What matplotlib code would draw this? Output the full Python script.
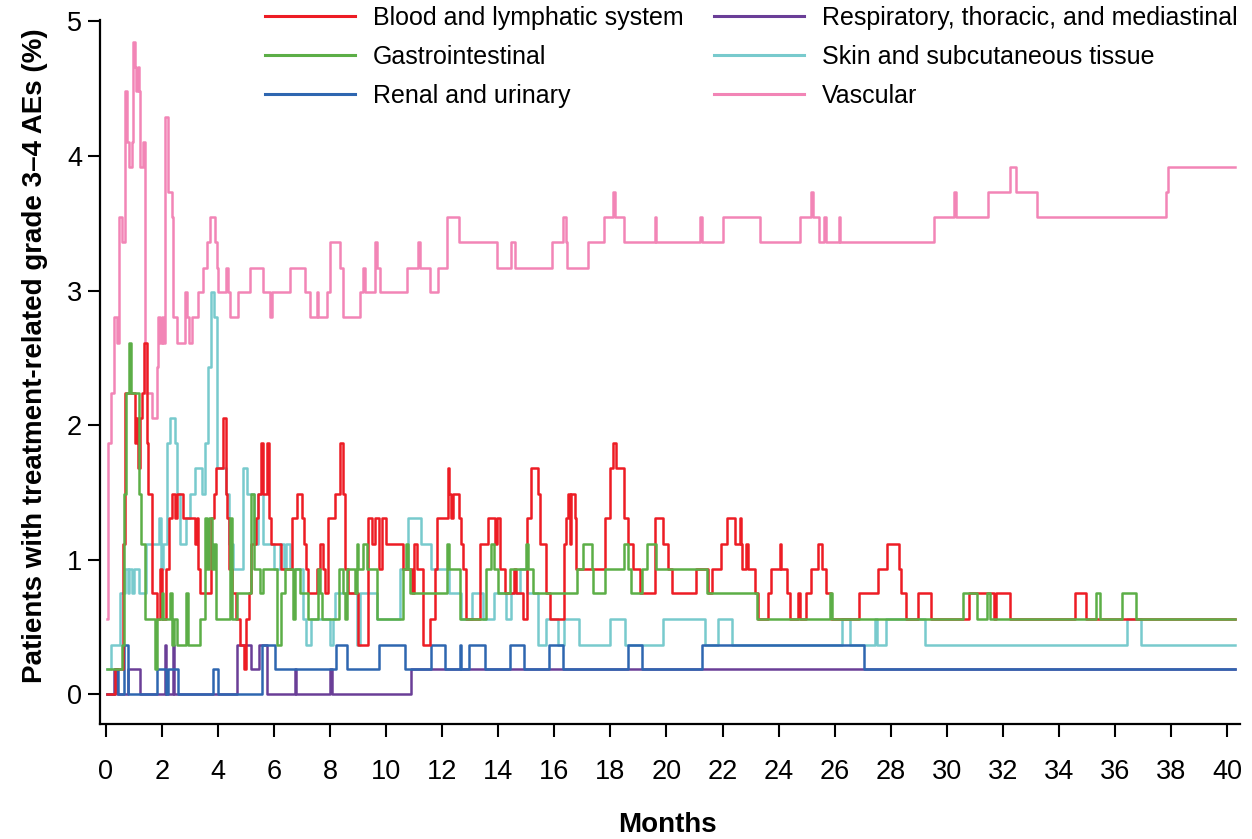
import matplotlib
matplotlib.use("Agg")
import matplotlib.pyplot as plt

plt.rcParams["font.family"] = ["Liberation Sans", "DejaVu Sans"]

# Months at which each rate changes; rate (%) holds until the next month
months_blood = [
    0.05, 0.35, 0.62, 0.68, 1.05, 1.1, 1.16, 1.22, 1.3, 1.36,
    1.46, 1.5, 1.64, 1.82, 1.94, 2.0, 2.17, 2.25, 2.35, 2.47,
    2.55, 2.77, 3.18, 3.25, 3.3, 3.36, 3.75, 3.85, 3.95, 4.19,
    4.28, 4.33, 4.4, 4.5, 4.65, 4.8, 4.95, 5.02, 5.1, 5.2,
    5.35, 5.45, 5.55, 5.62, 5.75, 5.82, 5.9, 6.25, 6.63, 6.81,
    7.02, 7.07, 7.16, 7.22, 7.52, 7.64, 7.76, 7.82, 7.94, 8.17,
    8.35, 8.45, 8.53, 8.65, 9.01, 9.36, 9.5, 9.6, 9.75, 9.85,
    10.0, 10.61, 10.91, 11.0, 11.12, 11.3, 11.58, 11.74, 11.8, 12.2,
    12.25, 12.3, 12.37, 12.6, 12.69, 12.76, 12.84, 13.34, 13.64, 13.9,
    13.95, 14.06, 14.25, 14.55, 14.62, 14.9, 15.01, 15.18, 15.42, 15.48,
    15.69, 15.86, 16.34, 16.43, 16.49, 16.55, 16.61, 16.73, 16.79, 17.8,
    17.98, 18.1, 18.19, 18.48, 18.63, 18.81, 19.05, 19.58, 19.88, 20.06,
    20.18, 21.05, 21.49, 21.61, 21.96, 22.14, 22.44, 22.61, 22.65, 22.71,
    22.85, 22.91, 23.15, 23.27, 23.63, 23.74, 24.04, 24.1, 24.28, 24.4,
    24.7, 24.76, 24.99, 25.17, 25.41, 25.53, 25.68, 25.86, 26.87, 27.55,
    27.88, 28.29, 28.35, 28.53, 28.97, 29.42, 30.79, 31.67, 31.76, 32.24,
    34.55, 34.97, 40.26,
]
pct_blood = [
    0, 0.19, 1.12, 2.24, 1.87, 2.05, 1.68, 2.05, 2.24, 2.61,
    1.87, 1.49, 0.75, 0.56, 0.93, 0.56, 0.93, 1.31, 1.49, 1.31,
    1.49, 1.31, 1.12, 1.31, 0.93, 0.75, 1.31, 1.49, 1.68, 2.05,
    1.49, 1.31, 0.93, 0.75, 0.56, 0.37, 0.19, 0.56, 0.75, 1.12,
    1.31, 1.49, 1.87, 1.49, 1.87, 1.31, 1.12, 0.93, 1.31, 1.49,
    1.31, 1.12, 0.93, 0.75, 0.93, 1.12, 0.93, 0.75, 1.31, 1.49,
    1.87, 1.49, 0.93, 0.75, 0.37, 1.31, 1.12, 1.31, 0.93, 1.31,
    1.12, 0.93, 0.75, 1.12, 0.93, 0.37, 0.56, 0.93, 1.31, 1.68,
    1.49, 1.31, 1.49, 1.31, 1.12, 0.93, 0.56, 1.12, 1.31, 1.12,
    1.31, 0.93, 0.75, 0.93, 0.75, 0.56, 1.31, 1.68, 1.49, 1.12,
    0.75, 0.56, 1.12, 1.31, 1.49, 1.12, 1.49, 1.31, 0.93, 1.31,
    1.68, 1.87, 1.68, 1.31, 1.12, 0.93, 0.75, 1.31, 1.12, 0.93,
    0.75, 0.93, 0.75, 0.93, 1.12, 1.31, 1.12, 1.31, 1.12, 0.93,
    1.12, 0.93, 0.75, 0.56, 0.75, 0.93, 1.12, 0.93, 0.75, 0.56,
    0.75, 0.56, 0.75, 0.93, 1.12, 0.93, 0.75, 0.56, 0.75, 0.93,
    1.12, 0.93, 0.75, 0.56, 0.75, 0.56, 0.75, 0.56, 0.75, 0.56,
    0.75, 0.56, 0.56,
]

months_gi = [
    0.05, 0.6, 0.66, 0.72, 0.82, 0.92, 1.2, 1.26, 1.4, 1.75,
    1.82, 2.0, 2.05, 2.3, 2.35, 2.45, 2.55, 2.88, 2.94, 3.35,
    3.55, 3.6, 3.7, 3.78, 3.85, 3.95, 4.45, 4.5, 4.67, 5.2,
    5.28, 5.5, 5.6, 6.1, 6.25, 6.39, 6.69, 6.75, 6.93, 7.22,
    7.58, 7.64, 7.7, 8.33, 8.47, 8.53, 8.59, 8.89, 8.95, 9.01,
    9.18, 9.32, 9.66, 10.61, 10.7, 10.78, 10.85, 12.16, 12.25, 12.63,
    13.56, 13.74, 13.85, 14.0, 14.41, 14.98, 15.07, 15.25, 16.82, 17.03,
    17.33, 17.39, 17.8, 18.48, 18.63, 18.75, 19.14, 19.29, 19.62, 21.45,
    23.23, 25.82, 25.89, 30.57, 31.07, 31.44, 31.52, 35.33, 35.45, 36.26,
    36.73, 40.26,
]
pct_gi = [
    0.19, 0.37, 1.49, 2.24, 2.61, 2.24, 1.49, 1.12, 0.56, 0.19,
    0.56, 0.75, 0.56, 0.75, 0.37, 0.56, 0.37, 0.75, 0.37, 0.56,
    1.31, 0.93, 1.31, 0.93, 1.12, 0.56, 1.31, 0.56, 0.75, 1.49,
    0.93, 0.75, 0.93, 0.37, 0.75, 0.93, 0.56, 0.93, 0.75, 0.56,
    0.93, 0.75, 0.56, 0.93, 0.75, 0.56, 0.93, 0.75, 1.12, 0.93,
    1.12, 0.93, 0.56, 0.93, 1.12, 0.93, 0.75, 1.12, 0.93, 0.56,
    0.93, 1.12, 0.93, 0.75, 0.93, 1.12, 0.93, 0.75, 0.93, 1.12,
    0.93, 0.75, 0.93, 1.12, 0.93, 0.75, 0.93, 1.12, 0.93, 0.75,
    0.56, 0.75, 0.56, 0.75, 0.56, 0.75, 0.56, 0.75, 0.56, 0.75,
    0.56, 0.56,
]

months_renal = [
    0.05, 0.33, 0.45, 0.65, 0.8, 1.84, 2.17, 2.23, 2.59, 3.84,
    4.01, 5.56, 6.03, 8.21, 8.59, 9.76, 10.67, 11.59, 12.09, 12.63,
    12.69, 12.96, 13.52, 14.41, 14.91, 15.81, 16.31, 18.63, 19.14, 21.25,
    27.04, 40.26,
]
pct_renal = [
    0, 0.19, 0, 0.37, 0, 0.19, 0, 0.19, 0, 0.19,
    0, 0.37, 0.19, 0.37, 0.19, 0.37, 0.19, 0.37, 0.19, 0.37,
    0.19, 0.37, 0.19, 0.37, 0.19, 0.37, 0.19, 0.37, 0.19, 0.37,
    0.19, 0.19,
]

months_resp = [
    0.05, 0.31, 0.39, 0.8, 1.24, 2.12, 2.16, 2.4, 2.45, 4.67,
    5.17, 5.48, 5.74, 6.75, 6.8, 8.0, 8.07, 10.9, 40.26,
]
pct_resp = [
    0, 0.19, 0, 0.19, 0, 0.37, 0, 0.37, 0, 0.37,
    0.19, 0.37, 0, 0.19, 0, 0.19, 0, 0.19, 0.19,
]

months_skin = [
    0.05, 0.2, 0.5, 0.68, 0.8, 0.84, 0.95, 1.0, 1.2, 1.45,
    1.9, 1.98, 2.05, 2.2, 2.3, 2.47, 2.55, 2.65, 2.85, 3.0,
    3.19, 3.42, 3.55, 3.65, 3.75, 3.85, 3.97, 4.3, 4.4, 4.55,
    4.9, 5.05, 5.3, 5.45, 5.6, 6.0, 6.21, 6.35, 6.45, 6.57,
    7.04, 7.16, 7.34, 7.99, 8.11, 8.17, 8.95, 9.07, 9.66, 10.49,
    10.79, 11.26, 11.59, 12.25, 12.69, 13.08, 13.46, 13.84, 14.29, 14.47,
    14.77, 15.03, 15.42, 15.71, 16.13, 16.33, 16.88, 17.98, 18.51, 19.86,
    21.37, 21.84, 22.32, 26.27, 26.53, 27.42, 27.5, 27.82, 29.21, 36.42,
    36.93, 40.26,
]
pct_skin = [
    0.19, 0.37, 0.75, 0.93, 0.75, 0.93, 0.75, 0.93, 0.75, 1.12,
    1.31, 0.93, 1.12, 1.87, 2.05, 1.87, 1.49, 1.12, 1.31, 1.49,
    1.68, 1.49, 1.87, 2.43, 2.99, 2.8, 1.68, 1.49, 1.12, 0.93,
    1.68, 1.49, 1.12, 1.49, 1.12, 0.93, 1.12, 0.93, 1.12, 0.93,
    0.56, 0.37, 0.56, 0.37, 0.56, 0.75, 0.37, 0.75, 0.56, 0.93,
    1.31, 1.12, 0.93, 0.75, 0.56, 0.75, 0.56, 0.75, 0.56, 0.75,
    0.93, 0.75, 0.37, 0.56, 0.37, 0.56, 0.37, 0.56, 0.37, 0.56,
    0.37, 0.56, 0.37, 0.56, 0.37, 0.56, 0.37, 0.56, 0.37, 0.56,
    0.37, 0.37,
]

months_vascular = [
    0.05, 0.07, 0.18, 0.31, 0.39, 0.49, 0.6, 0.69, 0.75, 0.84,
    0.93, 0.96, 1.04, 1.1, 1.14, 1.2, 1.24, 1.34, 1.4, 1.64,
    1.84, 1.88, 1.95, 2.0, 2.05, 2.11, 2.23, 2.35, 2.41, 2.55,
    2.83, 2.89, 2.98, 3.07, 3.3, 3.48, 3.6, 3.72, 3.9, 3.96,
    4.01, 4.29, 4.37, 4.43, 4.73, 5.14, 5.62, 5.86, 5.92, 6.57,
    7.1, 7.28, 7.52, 7.58, 7.88, 8.0, 8.35, 8.47, 9.07, 9.18,
    9.24, 9.6, 9.66, 9.78, 10.73, 11.15, 11.2, 11.56, 11.86, 12.16,
    12.61, 13.96, 14.47, 14.59, 15.9, 16.31, 16.4, 16.44, 17.21, 17.78,
    18.1, 18.16, 18.48, 19.58, 19.64, 21.21, 21.28, 22.0, 23.35, 24.75,
    25.17, 25.23, 25.44, 25.62, 25.68, 26.15, 26.2, 29.53, 30.24, 30.31,
    31.47, 32.24, 32.45, 33.21, 37.8, 37.88, 40.26,
]
pct_vascular = [
    0.56, 1.87, 2.24, 2.8, 2.61, 3.55, 3.36, 4.48, 4.1, 3.92,
    4.1, 4.85, 4.66, 4.48, 4.66, 4.48, 3.92, 4.1, 2.24, 2.05,
    2.43, 2.8, 2.61, 2.8, 2.61, 4.29, 3.73, 3.55, 2.8, 2.61,
    2.99, 2.8, 2.61, 2.8, 2.99, 3.17, 3.36, 3.55, 3.36, 3.17,
    2.99, 3.17, 2.99, 2.8, 2.99, 3.17, 2.99, 2.8, 2.99, 3.17,
    2.99, 2.8, 2.99, 2.8, 2.99, 3.36, 3.17, 2.8, 2.99, 3.17,
    2.99, 3.36, 3.17, 2.99, 3.17, 3.36, 3.17, 2.99, 3.17, 3.55,
    3.36, 3.17, 3.36, 3.17, 3.36, 3.55, 3.36, 3.17, 3.36, 3.55,
    3.73, 3.55, 3.36, 3.55, 3.36, 3.55, 3.36, 3.55, 3.36, 3.55,
    3.73, 3.55, 3.36, 3.55, 3.36, 3.55, 3.36, 3.55, 3.73, 3.55,
    3.73, 3.92, 3.73, 3.55, 3.73, 3.92, 3.92,
]

series = [
    ("Blood and lymphatic system", months_blood, pct_blood, "#ED1C24", 5),
    ("Gastrointestinal", months_gi, pct_gi, "#5CAE47", 6),
    ("Renal and urinary", months_renal, pct_renal, "#2E66B0", 4),
    ("Respiratory, thoracic, and mediastinal", months_resp, pct_resp, "#6A3E97", 3),
    ("Skin and subcutaneous tissue", months_skin, pct_skin, "#78CACD", 2),
    ("Vascular", months_vascular, pct_vascular, "#F285B6", 1),
]

fig = plt.figure(figsize=(12.52, 8.39), dpi=100)
ax = fig.add_axes([100 / 1252, 1 - 724 / 839, 1140 / 1252, 704 / 839])

handles = []
for label, x, y, color, z in series:
    (line,) = ax.plot(x, y, drawstyle="steps-post", color=color, lw=1.8,
                      label=label, zorder=z)
    handles.append(line)

ax.set_xlim(-0.2, 40.45)
ax.set_ylim(-0.22, 5.01)
ax.set_xticks(range(0, 41, 2))
ax.set_yticks(range(0, 6))

for side in ("top", "right"):
    ax.spines[side].set_visible(False)
for side in ("left", "bottom"):
    ax.spines[side].set_linewidth(1.6)

ax.tick_params(axis="both", direction="out", length=9, width=1.5,
               labelsize=19.5, colors="black")
ax.tick_params(axis="x", pad=16)
ax.tick_params(axis="y", pad=4)

fig.text(35 / 1252, 1 - 356 / 839, "Patients with treatment-related grade 3\u20134 AEs (%)",
         rotation=90, ha="center", va="center", fontsize=20, fontweight="bold")
fig.text(667 / 1252, 1 - 825 / 839, "Months", ha="center", va="center",
         fontsize=20, fontweight="bold")

leg = fig.legend(handles=handles, ncol=2, loc="upper left",
                 bbox_to_anchor=(265 / 1252, 1 - 6 / 839), frameon=False,
                 fontsize=18, handlelength=3.6, handletextpad=0.72,
                 columnspacing=1.2, labelspacing=0.6, borderpad=0, borderaxespad=0)
for h in leg.get_lines():
    h.set_linewidth(2.2)

fig.savefig("out.png", dpi=100)
